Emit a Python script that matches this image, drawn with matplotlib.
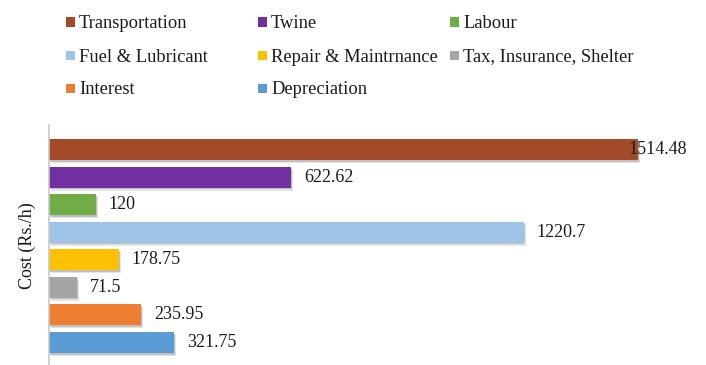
import matplotlib.pyplot as plt
import matplotlib.patheffects as pe
from matplotlib.patches import Rectangle

plt.rcParams['font.family'] = ['Liberation Serif', 'DejaVu Serif']

categories = ['Transportation', 'Twine', 'Labour', 'Fuel & Lubricant',
              'Repair & Maintrnance', 'Tax, Insurance, Shelter', 'Interest', 'Depreciation']
costs = [1514.48, 622.62, 120, 1220.7, 178.75, 71.5, 235.95, 321.75]
labels = ['1514.48', '622.62', '120', '1220.7', '178.75', '71.5', '235.95', '321.75']
colors = ['#A34A28', '#7030A0', '#70AD47', '#9DC3E6',
          '#FFC000', '#A5A5A5', '#ED7D31', '#5B9BD5']

W, H = 706, 365
fig = plt.figure(figsize=(W / 100, H / 100), dpi=100)
# axes in pixel terms: left 49, right 690, top 125, bottom 365
ax = fig.add_axes([49 / W, 0, (690 - 49) / W, (365 - 125) / H])

pos = list(range(len(costs)))
bars = ax.barh(pos, costs, height=0.76, color=colors, zorder=2)
for b in bars:
    b.set_path_effects([pe.SimplePatchShadow(offset=(1.5, -2.2), shadow_rgbFace='#909090', alpha=0.25),
                        pe.SimplePatchShadow(offset=(0.8, -1.2), shadow_rgbFace='#707070', alpha=0.3),
                        pe.Normal()])

ax.set_xlim(0, 1648)
ax.set_ylim(7.82, -0.89)

# data labels (first one sits over the bar end, as in the original)
for i, (v, t) in enumerate(zip(costs, labels)):
    dx = -10 if i == 0 else 13
    ax.annotate(t, (v, i), xytext=(dx * 0.72, 0), textcoords='offset points',
                ha='left', va='center', fontsize=13, color='#1a1a1a', zorder=3)

for s in ['top', 'right', 'bottom']:
    ax.spines[s].set_visible(False)
ax.spines['left'].set_color('#C8C8C8')
ax.spines['left'].set_linewidth(1.2)
ax.set_xticks([])
ax.set_yticks([])

fig.text(27 / W, 1 - 246 / H, 'Cost (Rs./h)', rotation=90, ha='center', va='center',
         fontsize=13, color='#1a1a1a')

# legend laid out in a 3-column grid, row by row
col_x = [66, 258, 450]
row_y = [22, 55, 88]
for k, (name, c) in enumerate(zip(categories, colors)):
    x0 = col_x[k % 3]
    y0 = row_y[k // 3]
    fig.patches.append(Rectangle((x0 / W, 1 - (y0 + 4.5) / H), 9 / W, 9 / H,
                                 transform=fig.transFigure, facecolor=c, edgecolor='none'))
    fig.text((x0 + 13) / W, 1 - y0 / H, name, ha='left', va='center_baseline',
             fontsize=13.3, color='#1a1a1a', family=['Liberation Serif', 'DejaVu Serif'])

fig.savefig('out.png', dpi=100)
